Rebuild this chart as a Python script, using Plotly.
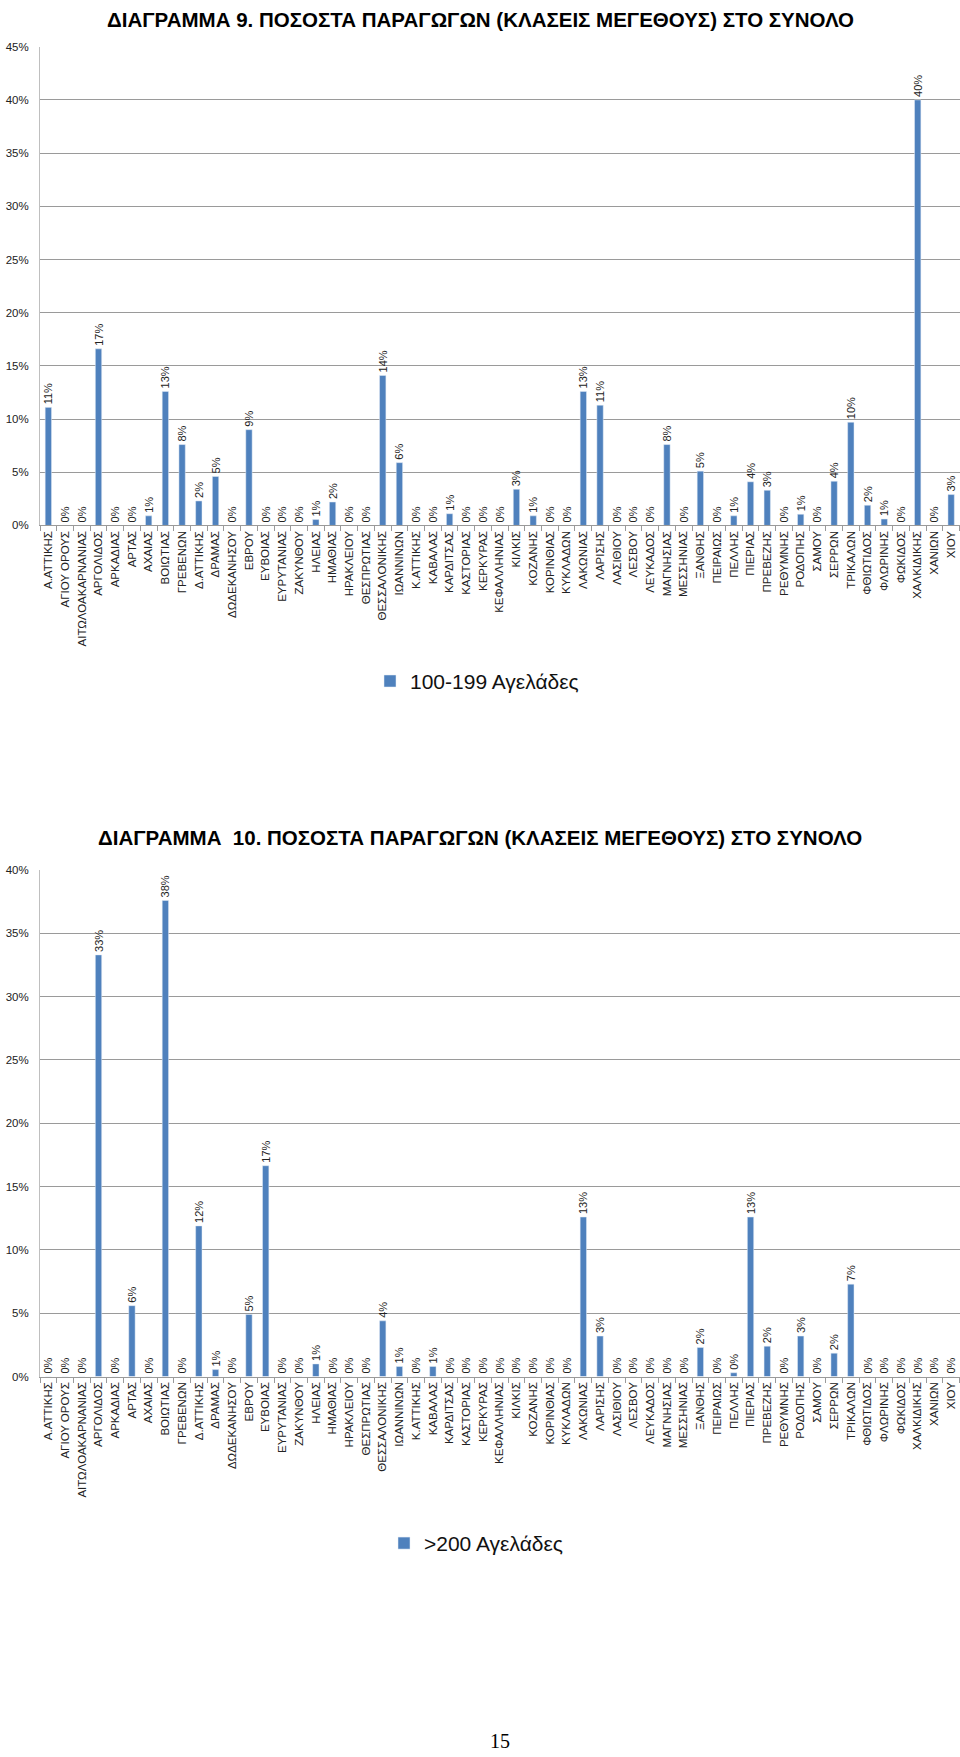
import plotly.graph_objects as go

W, H = 960, 1757

categories = ["Α.ΑΤΤΙΚΗΣ", "ΑΓΙΟΥ ΟΡΟΥΣ", "ΑΙΤΩΛΟΑΚΑΡΝΑΝΙΑΣ", "ΑΡΓΟΛΙΔΟΣ", "ΑΡΚΑΔΙΑΣ", "ΑΡΤΑΣ",
              "ΑΧΑΙΑΣ", "ΒΟΙΩΤΙΑΣ", "ΓΡΕΒΕΝΩΝ", "Δ.ΑΤΤΙΚΗΣ", "ΔΡΑΜΑΣ", "ΔΩΔΕΚΑΝΗΣΟΥ", "ΕΒΡΟΥ",
              "ΕΥΒΟΙΑΣ", "ΕΥΡΥΤΑΝΙΑΣ", "ΖΑΚΥΝΘΟΥ", "ΗΛΕΙΑΣ", "ΗΜΑΘΙΑΣ", "ΗΡΑΚΛΕΙΟΥ", "ΘΕΣΠΡΩΤΙΑΣ",
              "ΘΕΣΣΑΛΟΝΙΚΗΣ", "ΙΩΑΝΝΙΝΩΝ", "Κ.ΑΤΤΙΚΗΣ", "ΚΑΒΑΛΑΣ", "ΚΑΡΔΙΤΣΑΣ", "ΚΑΣΤΟΡΙΑΣ",
              "ΚΕΡΚΥΡΑΣ", "ΚΕΦΑΛΛΗΝΙΑΣ", "ΚΙΛΚΙΣ", "ΚΟΖΑΝΗΣ", "ΚΟΡΙΝΘΙΑΣ", "ΚΥΚΛΑΔΩΝ", "ΛΑΚΩΝΙΑΣ",
              "ΛΑΡΙΣΗΣ", "ΛΑΣΙΘΙΟΥ", "ΛΕΣΒΟΥ", "ΛΕΥΚΑΔΟΣ", "ΜΑΓΝΗΣΙΑΣ", "ΜΕΣΣΗΝΙΑΣ", "ΞΑΝΘΗΣ",
              "ΠΕΙΡΑΙΩΣ", "ΠΕΛΛΗΣ", "ΠΙΕΡΙΑΣ", "ΠΡΕΒΕΖΗΣ", "ΡΕΘΥΜΝΗΣ", "ΡΟΔΟΠΗΣ", "ΣΑΜΟΥ",
              "ΣΕΡΡΩΝ", "ΤΡΙΚΑΛΩΝ", "ΦΘΙΩΤΙΔΟΣ", "ΦΛΩΡΙΝΗΣ", "ΦΩΚΙΔΟΣ", "ΧΑΛΚΙΔΙΚΗΣ", "ΧΑΝΙΩΝ", "ΧΙΟΥ"]

# percent values, 100-199 cows
pct_100_199 = [11.1, 0, 0, 16.6, 0, 0, 0.9, 12.6, 7.6, 2.3, 4.6, 0, 9.0,
               0, 0, 0, 0.55, 2.2, 0, 0, 14.1, 5.9, 0, 0, 1.1, 0,
               0, 0, 3.4, 0.9, 0, 0, 12.6, 11.3, 0, 0, 0, 7.6, 0, 5.1,
               0, 0.9, 4.1, 3.3, 0, 1.05, 0, 4.15, 9.7, 1.9, 0.6, 0, 40.0, 0, 2.9]

# percent values, >200 cows
pct_200_plus = [0, 0, 0, 33.3, 0, 5.6, 0, 37.6, 0, 11.9, 0.55, 0, 4.9,
                16.65, 0, 0, 1.0, 0, 0, 0, 4.4, 0.8, 0, 0.8, 0, 0,
                0, 0, 0, 0, 0, 0, 12.6, 3.2, 0, 0, 0, 0, 0, 2.3,
                0, 0.3, 12.6, 2.4, 0, 3.2, 0, 1.85, 7.3, 0, 0, 0, 0, 0, 0]

series_names = ["100-199 Αγελάδες", ">200 Αγελάδες"]
titles = ["ΔΙΑΓΡΑΜΜΑ 9. ΠΟΣΟΣΤΑ ΠΑΡΑΓΩΓΩΝ (ΚΛΑΣΕΙΣ ΜΕΓΕΘΟΥΣ) ΣΤΟ ΣΥΝΟΛΟ",
          "ΔΙΑΓΡΑΜΜΑ  10. ΠΟΣΟΣΤΑ ΠΑΡΑΓΩΓΩΝ (ΚΛΑΣΕΙΣ ΜΕΓΕΘΟΥΣ) ΣΤΟ ΣΥΝΟΛΟ"]
page_number = "15"

BAR = "#4F81BD"
GRID = "#9a9a9a"
FONT = "Liberation Sans"

def py(px):
    return 1 - px / H

fig = go.Figure()
fig.add_trace(go.Bar(
    x=categories, y=[v / 100 for v in pct_100_199], name=series_names[0],
    marker_color=BAR, width=0.38, xaxis="x", yaxis="y", legend="legend",
    texttemplate="%{y:.0%}", textposition="outside", textangle=-90,
    constraintext="none", cliponaxis=False, showlegend=True,
    textfont=dict(family=FONT, size=11, color="#222222")))
fig.add_trace(go.Bar(
    x=categories, y=[v / 100 for v in pct_200_plus], name=series_names[1],
    marker_color=BAR, width=0.38, xaxis="x2", yaxis="y2", legend="legend2",
    texttemplate="%{y:.0%}", textposition="outside", textangle=-90,
    constraintext="none", cliponaxis=False, showlegend=True,
    textfont=dict(family=FONT, size=11, color="#222222")))

xcommon = dict(type="category", tickangle=-90, showgrid=False, showline=True,
               linecolor=GRID, linewidth=1, ticks="outside", tickson="boundaries",
               ticklen=5, tickcolor=GRID, tickfont=dict(family=FONT, size=11.5, color="#222222"),
               fixedrange=True)
ycommon = dict(tickformat=".0%", dtick=0.05, showgrid=True, gridcolor=GRID, gridwidth=1,
               showline=True, linecolor="#bfbfbf", linewidth=1, zeroline=False,
               ticks="", ticklabelstandoff=8,
               tickfont=dict(family=FONT, size=11.5, color="#222222"))

xd = [40 / W, 959.5 / W]
fig.update_layout(
    width=W, height=H, margin=dict(l=0, r=0, t=0, b=0),
    paper_bgcolor="white", plot_bgcolor="white", bargap=0.6,
    xaxis=dict(domain=xd, anchor="y", **xcommon),
    yaxis=dict(domain=[py(523), py(41)], range=[0, 0.45], anchor="x", **ycommon),
    xaxis2=dict(domain=xd, anchor="y2", **xcommon),
    yaxis2=dict(domain=[py(1380), py(870)], range=[0, 0.40], anchor="x2", **ycommon),
    legend=dict(x=370 / W, y=py(680), xanchor="left", yanchor="middle", itemwidth=30,
                font=dict(family=FONT, size=21, color="#111111"),
                bgcolor="rgba(0,0,0,0)"),
    legend2=dict(x=384 / W, y=py(1548), xanchor="left", yanchor="middle", itemwidth=30,
                 font=dict(family=FONT, size=21, color="#111111"),
                 bgcolor="rgba(0,0,0,0)"),
    annotations=[
        dict(text="<b>" + titles[0] + "</b>", x=480 / W, y=1, xref="paper", yref="paper",
             xanchor="center", yanchor="top", showarrow=False,
             font=dict(family=FONT, size=20.5, color="#000000")),
        dict(text="<b>" + titles[1] + "</b>", x=480 / W, y=py(837), xref="paper", yref="paper",
             xanchor="center", yanchor="middle", showarrow=False,
             font=dict(family=FONT, size=20.5, color="#000000")),
        dict(text=page_number, x=500 / W, y=py(1747), xref="paper", yref="paper",
             xanchor="center", yanchor="middle", showarrow=False,
             font=dict(family="Liberation Serif", size=20, color="#000000")),
    ],
)

fig.write_html("out.html")
